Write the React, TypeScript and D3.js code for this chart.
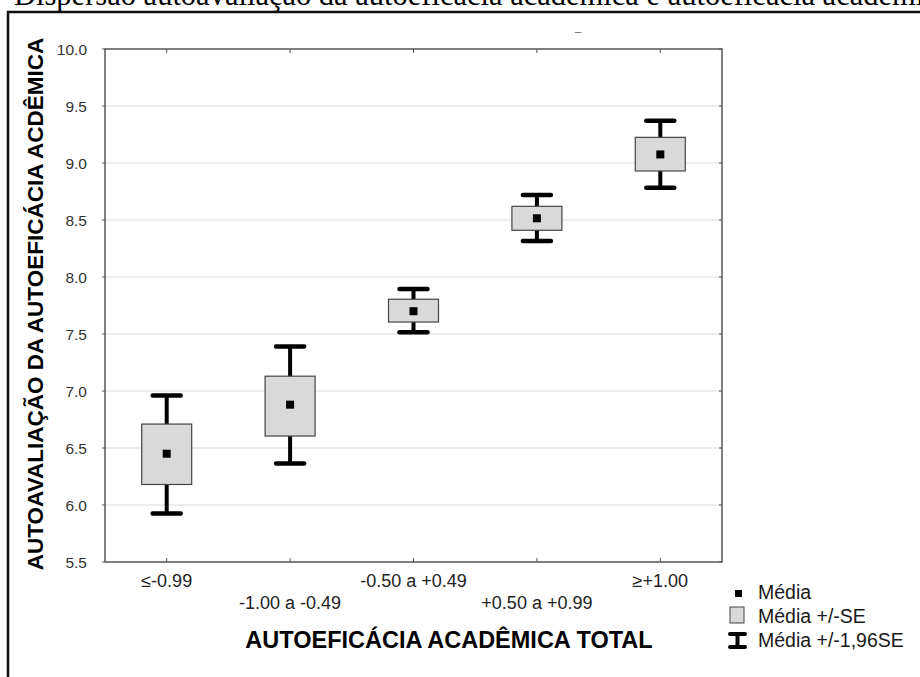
import React, { useEffect } from 'react';
import * as d3 from 'd3';

// groups of total academic self-efficacy
const categories = ['≤-0.99', '-1.00 a -0.49', '-0.50 a +0.49', '+0.50 a +0.99', '≥+1.00'];
const means = [6.45, 6.88, 7.7, 8.515, 9.075];
const seLow = [6.18, 6.605, 7.605, 8.41, 8.93];
const seHigh = [6.71, 7.13, 7.805, 8.62, 9.225];
const ciLow = [5.925, 6.365, 7.515, 8.315, 8.783];
const ciHigh = [6.96, 7.39, 7.895, 8.72, 9.37];
const yTicks = [5.5, 6.0, 6.5, 7.0, 7.5, 8.0, 8.5, 9.0, 9.5, 10.0];
const legendItems = ['Média', 'Média +/-SE', 'Média +/-1,96SE'];

const SANS = 'Arial, "Liberation Sans", sans-serif';

const App = () => {
  useEffect(() => {
    document.body.style.margin = '0';
    document.body.style.overflow = 'hidden';
  }, []);

  const left = 105, right = 722, top = 49, bottom = 562;

  const x = d3.scaleBand().domain(categories).range([left, right]);
  const y = d3.scaleLinear().domain([5.5, 10]).range([bottom, top]);
  const fmt = d3.format('.1f');
  const cx = (c) => x(c) + x.bandwidth() / 2;

  const boxW = 50, capW = 28, dot = 8;

  return (
    <svg width={920} height={677} style={{ position: 'absolute', left: 0, top: 0, background: '#fff' }}>
      {/* caption line cut off at the top of the image */}
      <text x={14} y={5} fontFamily='"Times New Roman", "Liberation Serif", serif' fontSize={30.5} fill="#000">
        Dispersão autoavaliação da autoeficácia acadêmica e autoeficácia acadêmica total
      </text>

      {/* outer frame */}
      <rect x={8} y={12} width={940} height={700} fill="none" stroke="#111" strokeWidth={2.5} />

      <text x={578} y={36} fontFamily={SANS} fontSize={12} fill="#777" textAnchor="middle">–</text>

      {/* grid */}
      {yTicks.filter(t => t > 5.5 && t < 10).map(t => (
        <line key={'g' + t} x1={left} x2={right} y1={y(t)} y2={y(t)} stroke="#dcdcdc" strokeWidth={1.2} />
      ))}

      {/* plot frame */}
      <rect x={left} y={top} width={right - left} height={bottom - top} fill="none" stroke="#555" strokeWidth={1.5} />

      {/* ticks */}
      {categories.map(c => (
        <g key={'t' + c}>
          <line x1={cx(c)} x2={cx(c)} y1={bottom} y2={bottom - 4} stroke="#555" strokeWidth={1} />
          <line x1={cx(c)} x2={cx(c)} y1={top} y2={top + 4} stroke="#555" strokeWidth={1} />
        </g>
      ))}
      {yTicks.map(t => (
        <g key={'yt' + t}>
          <line x1={left} x2={left - 3} y1={y(t)} y2={y(t)} stroke="#555" strokeWidth={1} />
          <line x1={right} x2={right - 3} y1={y(t)} y2={y(t)} stroke="#555" strokeWidth={1} />
          <text x={87} y={y(t) + 5.5} textAnchor="end" fontFamily={SANS} fontSize={15.5} fill="#333">
            {fmt(t)}
          </text>
        </g>
      ))}

      {/* x tick labels, staggered */}
      {categories.map((c, i) => (
        <text key={'xl' + c} x={cx(c)} y={i % 2 === 0 ? 587 : 609} textAnchor="middle"
          fontFamily={SANS} fontSize={18} fill="#222">
          {c}
        </text>
      ))}

      {/* whiskers, boxes and means */}
      {categories.map((c, i) => {
        const xc = cx(c);
        return (
          <g key={'b' + c}>
            <line x1={xc} x2={xc} y1={y(ciHigh[i])} y2={y(ciLow[i])} stroke="#000" strokeWidth={4} />
            <line x1={xc - capW / 2} x2={xc + capW / 2} y1={y(ciHigh[i])} y2={y(ciHigh[i])}
              stroke="#000" strokeWidth={4.5} strokeLinecap="round" />
            <line x1={xc - capW / 2} x2={xc + capW / 2} y1={y(ciLow[i])} y2={y(ciLow[i])}
              stroke="#000" strokeWidth={4.5} strokeLinecap="round" />
            <rect x={xc - boxW / 2} y={y(seHigh[i])} width={boxW} height={y(seLow[i]) - y(seHigh[i])}
              fill="#d9d9d9" stroke="#444" strokeWidth={1.2} />
            <rect x={xc - dot / 2} y={y(means[i]) - dot / 2} width={dot} height={dot} fill="#000" />
          </g>
        );
      })}

      {/* axis titles */}
      <text x={449} y={648} textAnchor="middle" fontFamily={SANS} fontSize={23.5} fontWeight="bold" fill="#000">
        AUTOEFICÁCIA ACADÊMICA TOTAL
      </text>
      <text transform="translate(43,304) rotate(-90)" textAnchor="middle" fontFamily={SANS} fontSize={22.5}
        fontWeight="bold" fill="#000">
        AUTOAVALIAÇÃO DA AUTOEFICÁCIA ACDÊMICA
      </text>

      {/* legend */}
      <g fontFamily={SANS} fontSize={19.5} fill="#1a1a1a">
        <rect x={735} y={590} width={7} height={7} fill="#000" />
        <text x={758} y={599}>{legendItems[0]}</text>
        <rect x={730} y={607} width={14} height={16} fill="#d9d9d9" stroke="#444" strokeWidth={1} />
        <text x={758} y={623}>{legendItems[1]}</text>
        <line x1={730} x2={745} y1={634} y2={634} stroke="#000" strokeWidth={4} strokeLinecap="round" />
        <line x1={737.5} x2={737.5} y1={634} y2={647} stroke="#000" strokeWidth={4} />
        <line x1={730} x2={745} y1={647} y2={647} stroke="#000" strokeWidth={4} strokeLinecap="round" />
        <text x={758} y={647}>{legendItems[2]}</text>
      </g>
    </svg>
  );
};

export default App;
